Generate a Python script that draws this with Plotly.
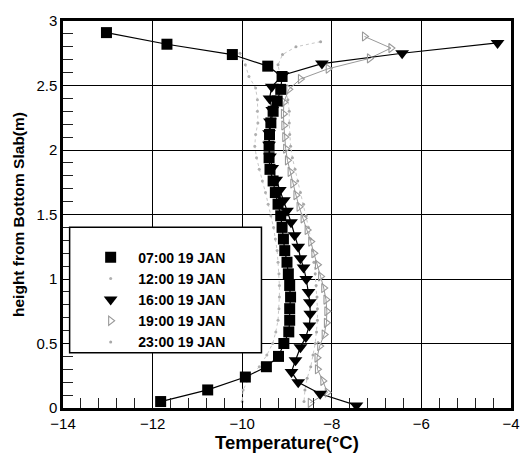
import plotly.graph_objects as go

# ---- data ----
h_0700 = [2.91, 2.82, 2.74, 2.65, 2.57, 2.47, 2.38, 2.30, 2.21, 2.12, 2.03, 1.94, 1.85, 1.76, 1.67,
          1.58, 1.49, 1.40, 1.31, 1.22, 1.13, 1.04, 0.95, 0.86, 0.77, 0.68, 0.59, 0.50, 0.40, 0.32,
          0.24, 0.14, 0.05]
t_0700 = [-13.03, -11.68, -10.22, -9.43, -9.11, -9.14, -9.22, -9.31, -9.36, -9.39, -9.40, -9.40,
          -9.38, -9.31, -9.26, -9.20, -9.14, -9.11, -9.08, -9.05, -9.00, -8.97, -8.94, -8.92,
          -8.94, -8.94, -8.96, -9.07, -9.19, -9.46, -9.93, -10.77, -11.82]

h_1200 = [2.75, 2.66, 2.57, 2.48, 2.39, 2.30, 2.21, 2.12, 2.03, 1.94, 1.85, 1.76, 1.67, 1.58, 1.49,
          1.40, 1.31, 1.22, 1.13, 1.04, 0.95, 0.86, 0.77, 0.68, 0.59, 0.50, 0.41, 0.32, 0.23, 0.14,
          0.05]
t_1200 = [-10.05, -9.93, -9.85, -9.70, -9.66, -9.66, -9.65, -9.70, -9.72, -9.68, -9.62, -9.55,
          -9.48, -9.42, -9.36, -9.30, -9.26, -9.22, -9.20, -9.18, -9.17, -9.17, -9.18, -9.20,
          -9.25, -9.32, -9.45, -9.62, -9.85, -9.98, -10.00]

h_1600 = [2.83, 2.75, 2.67, 2.58, 2.49, 2.40, 2.31, 2.22, 2.13, 2.04, 1.95, 1.86, 1.77, 1.69, 1.61,
          1.53, 1.44, 1.34, 1.25, 1.16, 1.09, 1.00, 0.90, 0.82, 0.73, 0.64, 0.55, 0.47, 0.37, 0.28,
          0.20, 0.11, 0.02]
t_1600 = [-4.30, -6.43, -8.22, -9.10, -9.34, -9.39, -9.33, -9.38, -9.40, -9.40, -9.38, -9.33,
          -9.24, -9.16, -9.07, -9.00, -8.91, -8.83, -8.75, -8.70, -8.63, -8.57, -8.52, -8.49,
          -8.48, -8.50, -8.58, -8.70, -8.81, -8.90, -8.75, -8.26, -7.45]

h_1900 = [2.88, 2.79, 2.71, 2.63, 2.55, 2.47, 2.37, 2.28, 2.19, 2.10, 2.01, 1.92, 1.83, 1.74, 1.65,
          1.56, 1.47, 1.38, 1.29, 1.20, 1.11, 1.02, 0.93, 0.84, 0.75, 0.66, 0.57, 0.48, 0.39, 0.30,
          0.21, 0.12, 0.04]
t_1900 = [-7.27, -6.68, -7.16, -8.08, -8.70, -8.96, -9.07, -9.08, -9.07, -9.05, -9.03, -8.99,
          -8.93, -8.87, -8.80, -8.73, -8.64, -8.55, -8.47, -8.40, -8.32, -8.25, -8.18, -8.13,
          -8.11, -8.12, -8.17, -8.27, -8.33, -8.32, -8.20, -8.10, -8.48]

h_2300 = [2.84, 2.80, 2.74, 2.66, 2.57, 2.48, 2.39, 2.30, 2.21, 2.12, 2.03, 1.94, 1.85, 1.76, 1.67,
          1.58, 1.49, 1.40, 1.31, 1.22, 1.13, 1.04, 0.95, 0.86, 0.77, 0.68, 0.59, 0.50, 0.41, 0.32,
          0.23, 0.14, 0.05]
t_2300 = [-8.25, -8.80, -9.10, -9.20, -9.15, -9.05, -8.98, -8.95, -8.95, -8.94, -8.92, -8.88,
          -8.82, -8.76, -8.70, -8.63, -8.57, -8.52, -8.47, -8.43, -8.40, -8.37, -8.35, -8.33,
          -8.32, -8.32, -8.34, -8.37, -8.42, -8.47, -8.55, -8.60, -8.62]

names = ["07:00 19 JAN", "12:00 19 JAN", "16:00 19 JAN", "19:00 19 JAN", "23:00 19 JAN"]

# minor tick positions (5 per major interval)
x_minor_ticks = [-13.6, -13.2, -12.8, -12.4, -11.6, -11.2, -10.8, -10.4, -9.6, -9.2, -8.8, -8.4,
                 -7.6, -7.2, -6.8, -6.4, -5.6, -5.2, -4.8, -4.4]
y_minor_ticks = [0.1, 0.2, 0.3, 0.4, 0.6, 0.7, 0.8, 0.9, 1.1, 1.2, 1.3, 1.4, 1.6, 1.7, 1.8, 1.9,
                 2.1, 2.2, 2.3, 2.4, 2.6, 2.7, 2.8, 2.9]

FONT = "Liberation Sans, Arial, sans-serif"

styles = [
    dict(line=dict(color="black", width=1.2),
         marker=dict(symbol="square", size=11, color="black")),
    dict(line=dict(color="#c8c8c8", width=1, dash="dot"),
         marker=dict(symbol="circle", size=3, color="#b0b0b0")),
    dict(line=dict(color="black", width=1.2),
         marker=dict(symbol="triangle-down", size=12, color="black")),
    dict(line=dict(color="#999999", width=1),
         marker=dict(symbol="triangle-right-open", size=8, color="#999999",
                     line=dict(width=1.1))),
    dict(line=dict(color="#c8c8c8", width=1, dash="dot"),
         marker=dict(symbol="circle", size=3, color="#a8a8a8")),
]
data = [(t_0700, h_0700), (t_1200, h_1200), (t_1600, h_1600), (t_1900, h_1900), (t_2300, h_2300)]
order = [1, 4, 3, 0, 2]

fig = go.Figure()
# lines (not in legend)
for i in order:
    x, y = data[i]
    fig.add_trace(go.Scatter(x=x, y=y, mode="lines", line=styles[i]["line"],
                             showlegend=False, hoverinfo="skip"))
# markers (in legend)
for i in order:
    x, y = data[i]
    fig.add_trace(go.Scatter(x=x, y=y, mode="markers", marker=styles[i]["marker"],
                             name="<b>" + names[i] + "</b>", legendrank=i + 1))

# white legend box
fig.add_shape(type="rect", xref="paper", yref="paper", x0=0.0148, x1=0.443, y0=0.1425, y1=0.4668,
              fillcolor="white", line=dict(color="black", width=1.5), layer="above")

fig.update_layout(
    width=532, height=457,
    margin=dict(l=63, r=16, t=12, b=38),
    paper_bgcolor="white", plot_bgcolor="white",
    font=dict(family=FONT, size=14, color="black"),
    legend=dict(x=0.045, y=0.43, xanchor="left", yanchor="top", bgcolor="rgba(0,0,0,0)",
                borderwidth=0, font=dict(family=FONT, size=14, color="black"),
                traceorder="normal", itemwidth=45, tracegroupgap=0),
    showlegend=True,
)
fig.update_xaxes(
    range=[-14, -4], tickmode="linear", tick0=-14, dtick=2,
    showgrid=True, gridcolor="black", gridwidth=1.4,
    showline=True, linecolor="black", linewidth=2.5, mirror=True,
    ticks="inside", ticklen=7, tickcolor="black", tickwidth=1.3,
    minor=dict(tickmode="array", tickvals=x_minor_ticks, ticks="inside", ticklen=10,
               tickcolor="#222222", showgrid=False),
    zeroline=False,
    tickfont=dict(family=FONT, size=15),
    title=dict(text="<b>Temperature(°C)</b>", font=dict(family=FONT, size=18.5), standoff=0),
)
fig.update_yaxes(
    range=[0, 3], tickmode="linear", tick0=0, dtick=0.5,
    showgrid=True, gridcolor="black", gridwidth=1.4,
    showline=True, linecolor="black", linewidth=2.5, mirror=True,
    ticks="inside", ticklen=7, tickcolor="black", tickwidth=1.3,
    minor=dict(tickmode="array", tickvals=y_minor_ticks, ticks="inside", ticklen=10,
               tickcolor="#222222", showgrid=False),
    zeroline=False,
    tickfont=dict(family=FONT, size=15),
    title=dict(text="<b>height from Bottom Slab(m)</b>", font=dict(family=FONT, size=15.5), standoff=8),
)

fig.write_html("out.html")
